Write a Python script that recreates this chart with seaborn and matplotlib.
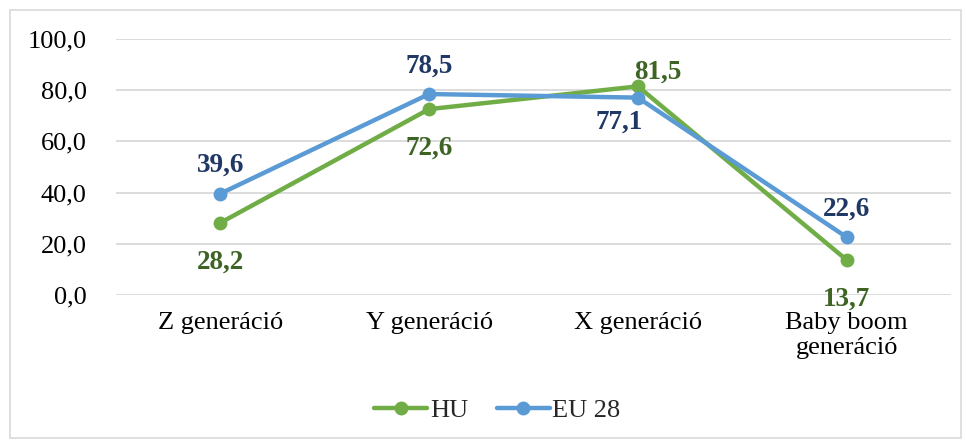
import pandas as pd
import numpy as np
import seaborn as sns
import matplotlib.pyplot as plt
from matplotlib.patches import Rectangle

generations = ["Z generáció", "Y generáció", "X generáció", "Baby boom\ngeneráció"]
hu_values = [28.2, 72.6, 81.5, 13.7]
eu_values = [39.6, 78.5, 77.1, 22.6]
series_names = ["HU", "EU 28"]
y_ticks = [0, 20, 40, 60, 80, 100]

line_colors = {"HU": "#70ad47", "EU 28": "#5b9bd5"}
label_colors = {"HU": "#3d6424", "EU 28": "#203864"}
# label offsets in pixels (dx, dy), dy positive = above the point
label_offsets = {
    "HU": [(0, -39), (0, -39), (20, 14), (0, -39)],
    "EU 28": [(0, 28), (0, 28), (-19, -25), (0, 28)],
}

df = pd.DataFrame({
    "gen": generations * 2,
    "value": hu_values + eu_values,
    "series": ["HU"] * 4 + ["EU 28"] * 4,
})

sns.set_style("white")
plt.rcParams["font.family"] = ["Liberation Serif", "DejaVu Serif"]

fig = plt.figure(figsize=(9.66, 4.41), dpi=100)
ax = fig.add_axes([0.120, 0.331, 0.8645, 0.5806])

sns.lineplot(data=df, x="gen", y="value", hue="series", palette=line_colors,
             marker="o", markersize=10, markeredgewidth=0, linewidth=3.2,
             sort=False, ax=ax, legend=False, clip_on=False)

for name, vals in [("HU", hu_values), ("EU 28", eu_values)]:
    for i, v in enumerate(vals):
        dx, dy = label_offsets[name][i]
        ax.annotate(f"{v:.1f}".replace(".", ","), (i, v),
                    xytext=(dx, dy), textcoords="offset pixels",
                    ha="center", va="center", fontsize=19.5, fontweight="bold",
                    color=label_colors[name])

ax.set_xlim(-0.5, 3.5)
ax.set_ylim(0, 100)
ax.set_yticks(y_ticks)
ax.set_yticklabels([f"{t:.1f}".replace(".", ",") for t in y_ticks])
ax.set_xticks(range(len(generations)))
ax.set_xticklabels(generations)
ax.tick_params(axis="both", length=0, labelsize=19, colors="#000000")
ax.tick_params(axis="y", pad=21)
ax.tick_params(axis="x", pad=12)
ax.set_xlabel("")
ax.set_ylabel("")
ax.grid(axis="y", color="#d9d9d9", linewidth=1.3)
ax.set_axisbelow(True)
for s in ax.spines.values():
    s.set_visible(False)

handles = [plt.Line2D([], [], color=line_colors[n], marker="o", markersize=10,
                      markeredgewidth=0, linewidth=3.2) for n in series_names]
fig.legend(handles, series_names, loc="center", bbox_to_anchor=(0.515, 0.07),
           ncol=2, frameon=False, fontsize=19, handlelength=2.0,
           handletextpad=0.1, columnspacing=1.1)

fig.patches.append(Rectangle((10 / 966, 3 / 441), 951 / 966, 428 / 441,
                             transform=fig.transFigure, fill=False,
                             edgecolor="#d9d9d9", linewidth=1.2))

fig.savefig("out.png", dpi=100)
